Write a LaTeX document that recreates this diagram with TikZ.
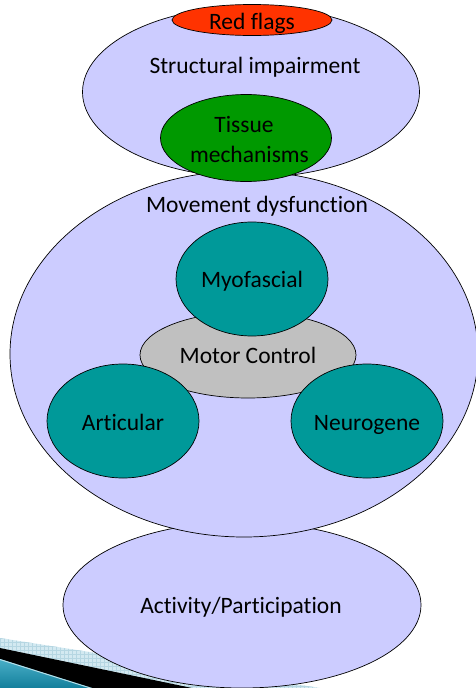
\documentclass[tikz,border=0pt]{standalone}
\usepackage{fontspec}
\setmainfont[Ligatures={NoCommon}]{Carlito}
\usetikzlibrary{shapes.geometric}
\definecolor{lav}{HTML}{CCCCFF}
\definecolor{flagred}{HTML}{FF3300}
\definecolor{tissuegreen}{HTML}{009900}
\definecolor{tealc}{HTML}{009999}
\definecolor{motorgrey}{HTML}{C0C0C0}
\definecolor{gridband}{HTML}{D3E9F1}
\definecolor{gridline}{HTML}{B5D6E2}
\definecolor{tealtop}{HTML}{49AFC7}
\definecolor{tealbot}{HTML}{137F9C}
\tikzset{
  blob/.style={ellipse, draw=black, line width=0.7pt, inner sep=0pt},
  lbl/.style={font=\fontsize{23.5}{28}\selectfont, inner sep=0pt, anchor=base}
}
\begin{document}
\begin{tikzpicture}[x=1pt,y=-1pt]
\useasboundingbox (0,0) rectangle (476,688);
\clip (0,0) rectangle (476,688);

% template band in the lower left corner
\fill[gridband] (0,638) -- (320,688) -- (0,688) -- cycle;
\begin{scope}
  \clip (0,638) -- (320,688) -- (0,688) -- cycle;
  \foreach \g in {0,4,...,320} {
    \draw[gridline, line width=0.3pt] (\g,630) -- (\g,688);
  }
  \foreach \g in {630,634,...,688} {
    \draw[gridline, line width=0.3pt] (0,\g) -- (320,\g);
  }
\end{scope}
\fill[black] (0,648) -- (192,688) -- (0,688) -- cycle;
\shade[top color=tealtop, bottom color=tealbot] (0,659) -- (92,688) -- (0,688) -- cycle;
\draw[tealtop!40!white, line width=1pt] (0,659.5) -- (92,688.5);

% activity level
\node[blob, fill=lav, minimum width=358pt, minimum height=166pt] (act) at (242,605) {};
\node[lbl] (actl) at (241,613) {Activity/Participation};

% movement level
\node[blob, fill=lav, minimum width=468pt, minimum height=366pt] (mov) at (244,354) {};
\node[lbl] (movl) at (257,212) {Movement dysfunction};
\node[blob, fill=motorgrey, minimum width=216pt, minimum height=86pt] (mc) at (248,355) {};
\node[lbl] (mcl) at (248,363) {Motor Control};
\node[blob, fill=tealc, minimum width=152pt, minimum height=114pt] (myo) at (252,279) {};
\node[lbl] (myol) at (252,287) {Myofascial};
\node[blob, fill=tealc, minimum width=152pt, minimum height=114pt] (art) at (123,421) {};
\node[lbl] (artl) at (123,430) {Articular};
\node[blob, fill=tealc, minimum width=152pt, minimum height=114pt] (neu) at (367,421) {};
\node[lbl] (neul) at (367,430) {Neurogene};

% structural level
\node[blob, fill=lav, minimum width=337pt, minimum height=171pt] (str) at (251,92) {};
\node[lbl] (strl) at (255,73) {Structural impairment};
\node[blob, fill=tissuegreen, minimum width=171pt, minimum height=87pt] (tis) at (246,138) {};
\node[lbl] (tisl1) at (244,132) {Tissue};
\node[lbl] (tisl2) at (249.5,162) {mechanisms};
\node[blob, fill=flagred, minimum width=160pt, minimum height=31pt] (red) at (252,20) {};
\node[lbl] (redl) at (252,29) {Red flags};
\end{tikzpicture}
\end{document}
